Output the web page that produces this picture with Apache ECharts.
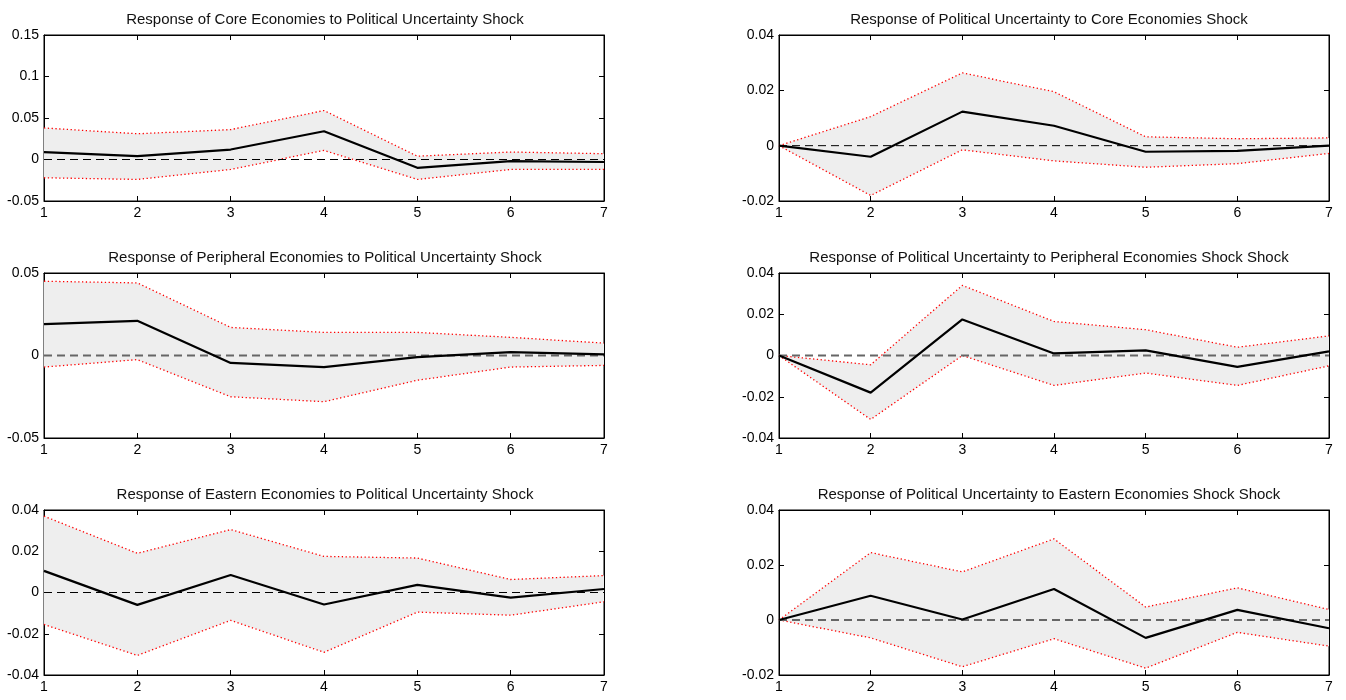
<!DOCTYPE html>
<html>
<head>
<meta charset="utf-8">
<script src="https://cdn.jsdelivr.net/npm/echarts@6/dist/echarts.min.js"></script>
<style>
html,body{margin:0;padding:0;background:#fff;}
#chart{width:1346px;height:700px;}
</style>
</head>
<body>
<div id="chart"></div>
<script>
// ---------- DATA ----------
const horizons = [1, 2, 3, 4, 5, 6, 7];

const titles = [
  "Response of Core Economies to Political Uncertainty Shock",
  "Response of Political Uncertainty to Core Economies Shock",
  "Response of Peripheral Economies to Political Uncertainty Shock",
  "Response of Political Uncertainty to Peripheral Economies Shock Shock",
  "Response of Eastern Economies to Political Uncertainty Shock",
  "Response of Political Uncertainty to Eastern Economies Shock Shock"
];

// Panel 1: Core economies <- political uncertainty
const p1Mean  = [0.009, 0.004, 0.012, 0.034, -0.010, -0.002, -0.003];
const p1Upper = [0.038, 0.031, 0.036, 0.059, 0.004, 0.009, 0.007];
const p1Lower = [-0.022, -0.024, -0.012, 0.011, -0.024, -0.012, -0.012];

// Panel 2: Political uncertainty <- core economies
const p2Mean  = [0, -0.0040, 0.0123, 0.0072, -0.0022, -0.0019, 0];
const p2Upper = [0, 0.0105, 0.0263, 0.0195, 0.0032, 0.0025, 0.0028];
const p2Lower = [0, -0.0180, -0.0015, -0.0055, -0.0078, -0.0065, -0.0028];

// Panel 3: Peripheral economies <- political uncertainty
const p3Mean  = [0.019, 0.021, -0.0045, -0.007, -0.001, 0.002, 0.0007];
const p3Upper = [0.045, 0.044, 0.017, 0.014, 0.014, 0.011, 0.0075];
const p3Lower = [-0.007, -0.0025, -0.025, -0.028, -0.015, -0.007, -0.006];

// Panel 4: Political uncertainty <- peripheral economies
const p4Mean  = [0, -0.018, 0.0175, 0.001, 0.0025, -0.0055, 0.002];
const p4Upper = [0, -0.0045, 0.034, 0.0165, 0.0125, 0.004, 0.0095];
const p4Lower = [0, -0.031, 0, -0.0145, -0.0085, -0.0145, -0.005];

// Panel 5: Eastern economies <- political uncertainty
const p5Mean  = [0.0105, -0.006, 0.0085, -0.0058, 0.0037, -0.0025, 0.0017];
const p5Upper = [0.037, 0.019, 0.0305, 0.0175, 0.0167, 0.0063, 0.0082];
const p5Lower = [-0.0155, -0.0305, -0.0135, -0.029, -0.0095, -0.011, -0.0045];

// Panel 6: Political uncertainty <- eastern economies
const p6Mean  = [0, 0.0088, 0.0002, 0.0113, -0.0065, 0.0037, -0.003];
const p6Upper = [0, 0.0245, 0.0175, 0.0295, 0.0047, 0.0117, 0.0038];
const p6Lower = [0, -0.0065, -0.017, -0.0068, -0.0175, -0.0045, -0.0095];

// y-axis tick settings per panel [min, max, step]
const p1Ticks = [-0.05, 0.15, 0.05];
const p2Ticks = [-0.02, 0.04, 0.02];
const p3Ticks = [-0.05, 0.05, 0.05];
const p4Ticks = [-0.04, 0.04, 0.02];
const p5Ticks = [-0.04, 0.04, 0.02];
const p6Ticks = [-0.02, 0.04, 0.02];

// ---------- LAYOUT / STYLE ----------
const panels = [
  {mean: p1Mean, up: p1Upper, lo: p1Lower, ticks: p1Ticks, zero: 'thin'},
  {mean: p2Mean, up: p2Upper, lo: p2Lower, ticks: p2Ticks, zero: 'thin'},
  {mean: p3Mean, up: p3Upper, lo: p3Lower, ticks: p3Ticks, zero: 'gray'},
  {mean: p4Mean, up: p4Upper, lo: p4Lower, ticks: p4Ticks, zero: 'gray'},
  {mean: p5Mean, up: p5Upper, lo: p5Lower, ticks: p5Ticks, zero: 'thin'},
  {mean: p6Mean, up: p6Upper, lo: p6Lower, ticks: p6Ticks, zero: 'gray'}
];
const colLeft = [44, 779], colWidth = [560, 550];
const rowTop = [35, 273, 510], rowHeight = [166, 165, 165];
const titleCx = [320, 1044], titleY = [7, 245, 482];
const FONT = 'Liberation Sans, Arial, sans-serif';

const fmt = v => String(+v.toFixed(4));

const option = {
  animation: false,
  backgroundColor: '#fff',
  title: [], grid: [], xAxis: [], yAxis: [], series: []
};

panels.forEach((p, i) => {
  const col = i % 2, row = Math.floor(i / 2);
  option.title.push({
    text: titles[i], left: titleCx[col], top: titleY[row], textAlign: 'center',
    textStyle: {fontFamily: FONT, fontSize: 15, fontWeight: 'normal', color: '#111'}
  });
  option.grid.push({
    left: colLeft[col], top: rowTop[row], width: colWidth[col], height: rowHeight[row],
    show: true, borderColor: '#000', borderWidth: 1, backgroundColor: 'transparent'
  });
  const xBase = {
    type: 'value', gridIndex: i, min: horizons[0], max: horizons[horizons.length - 1], interval: 1,
    splitLine: {show: false},
    axisLine: {show: true, onZero: false, lineStyle: {color: '#000', width: 1}},
    axisTick: {show: true, inside: true, length: 5, lineStyle: {color: '#000'}}
  };
  option.xAxis.push(Object.assign({}, xBase, {
    position: 'bottom',
    axisLabel: {show: true, margin: 5, fontFamily: FONT, fontSize: 14, color: '#000'}
  }));
  option.xAxis.push(Object.assign({}, xBase, {position: 'top', axisLabel: {show: false}}));
  const yBase = {
    type: 'value', gridIndex: i, min: p.ticks[0], max: p.ticks[1], interval: p.ticks[2],
    splitLine: {show: false},
    axisLine: {show: true, onZero: false, lineStyle: {color: '#000', width: 1}},
    axisTick: {show: true, inside: true, length: 5, lineStyle: {color: '#000'}}
  };
  option.yAxis.push(Object.assign({}, yBase, {
    position: 'left',
    axisLabel: {show: true, margin: 5, fontFamily: FONT, fontSize: 14, color: '#000', formatter: fmt}
  }));
  option.yAxis.push(Object.assign({}, yBase, {position: 'right', axisLabel: {show: false}}));

  const xi = 2 * i, yi = 2 * i;
  // confidence band fill
  option.series.push({
    type: 'custom', xAxisIndex: xi, yAxisIndex: yi, silent: true, z: 1,
    data: [[horizons[0], p.lo[0]]],
    renderItem: (params, api) => {
      const pts = [];
      for (let k = 0; k < horizons.length; k++) pts.push(api.coord([horizons[k], p.up[k]]));
      for (let k = horizons.length - 1; k >= 0; k--) pts.push(api.coord([horizons[k], p.lo[k]]));
      return {type: 'polygon', shape: {points: pts}, style: {fill: '#eeeeee', stroke: null}};
    }
  });
  const bandLine = arr => ({
    type: 'line', xAxisIndex: xi, yAxisIndex: yi, silent: true, z: 2, symbol: 'none',
    data: horizons.map((h, k) => [h, arr[k]]),
    lineStyle: {color: '#ff0000', width: 1.3, type: [1.3, 2.5]}
  });
  option.series.push(bandLine(p.up));
  option.series.push(bandLine(p.lo));
  // zero line
  option.series.push({
    type: 'line', xAxisIndex: xi, yAxisIndex: yi, silent: true, z: 3, symbol: 'none',
    data: [[horizons[0], 0], [horizons[horizons.length - 1], 0]],
    lineStyle: p.zero === 'thin'
      ? {color: '#000', width: 1, type: [8, 5]}
      : {color: '#666', width: 1.8, type: [8, 5]}
  });
  // mean response
  option.series.push({
    type: 'line', xAxisIndex: xi, yAxisIndex: yi, silent: true, z: 4, symbol: 'none',
    data: horizons.map((h, k) => [h, p.mean[k]]),
    lineStyle: {color: '#000', width: 2.2}
  });
});

const chart = echarts.init(document.getElementById('chart'), null, {renderer: 'canvas'});
chart.setOption(option);
</script>
</body>
</html>
